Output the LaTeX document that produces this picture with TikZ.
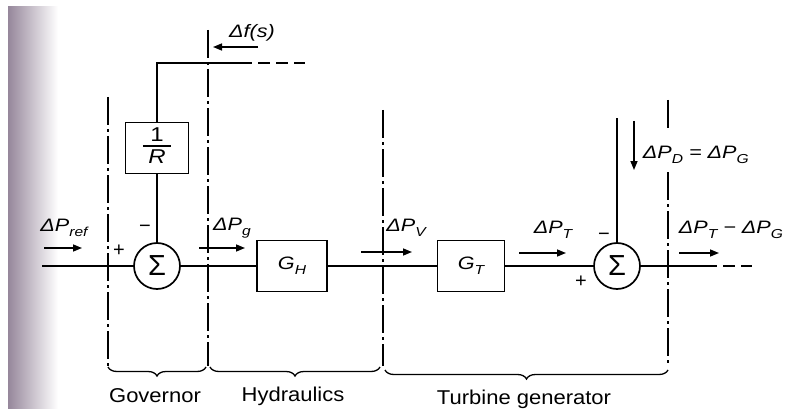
\documentclass[tikz,border=0pt]{standalone}
\usepackage{fontspec}
\setmainfont{Liberation Sans}
\newfontfamily\lblf[FakeStretch=1.2]{Liberation Sans}
\newfontfamily\capf[FakeStretch=1.1]{Liberation Sans}
\usetikzlibrary{arrows.meta,decorations.pathreplacing}
\newcommand{\lsub}[1]{\raisebox{-0.55ex}{\fontsize{13}{13}\selectfont #1}}
\definecolor{scang}{RGB}{150,135,155}
\begin{document}
\begin{tikzpicture}[x=1pt,y=-1pt, line width=1.7pt,
 blk/.style={draw, minimum height=51pt, font=\lblf\fontsize{18}{20}\selectfont\itshape, inner sep=0pt},
 sumc/.style={draw, circle, minimum size=46pt, inner sep=0pt, font=\fontsize{29}{30}\selectfont},
 lbl/.style={font=\lblf\fontsize{18}{20}\selectfont\itshape, inner sep=0pt},
 sgn/.style={font=\fontsize{20}{20}\selectfont, inner sep=0pt},
 captxt/.style={font=\capf\fontsize{20}{22}\selectfont, inner sep=0pt},
 dd/.style={line width=1.3pt, dash pattern=on 28pt off 4pt on 3pt off 4pt},
 sig/.style={-{Triangle[length=9pt,width=7pt]}, line width=1.5pt},
 brc/.style={decorate, decoration={brace, mirror, amplitude=9pt}, line width=1.3pt},
]
\useasboundingbox (0,0) rectangle (792,409);
\fill[white] (0,0) rectangle (792,409);
\shade[left color=scang, right color=white] (8,7) rectangle (58,409);

% blocks
\node[sumc] (s1) at (157,266) {Σ};
\node[blk, minimum width=63pt, font=\lblf\fontsize{20}{22}\selectfont] (rb) at (157,148) {\setlength\arrayrulewidth{1.4pt}\begin{tabular}{@{\;}c@{\;}}1\\[-3pt]\hline\noalign{\vskip 1pt}\textit{R}\end{tabular}};
\node[blk, minimum width=70pt] (gh) at (292,266) {G\lsub{H}};
\node[blk, minimum width=67pt] (gt) at (471,266) {G\lsub{T}};
\node[sumc] (s2) at (617,266) {Σ};

% coordinates
\coordinate (in) at (42,266);
\coordinate (o1) at (705,266);
\coordinate (o2) at (752,266);
\coordinate (f1) at (240,63);
\coordinate (f2) at (305,63);
\coordinate (dt) at (617,118);

% connectors
\draw (in) -- (s1.west);
\draw (s1) -- (gh);
\draw (gh) -- (gt);
\draw (gt) -- (s2);
\draw (s2.east) -- (o1);
\draw[dash pattern=on 12pt off 6pt] (o1) -- (o2);
\draw (s1.north) -- (rb.south);
\draw (rb.north) |- (f1);
\draw[dash pattern=on 12pt off 6pt] (f1) -- (f2);
\draw (s2.north) -- (dt);

% dash-dot dividers
\draw[dd] (108,97) -- (108,366);
\draw[dd] (208,30) -- (208,366);
\draw[dd] (383,110) -- (383,366);
\draw[dd] (668,100) -- (668,128);
\draw[dd] (668,172) -- (668,366);

% braces
\draw[brc] (108,367) -- (206,367);
\draw[brc] (210,367) -- (380,367);
\draw[brc] (385,370) -- (668,370);
\node[captxt] (cg) at (155,396) {Governor};
\node[captxt] (ch) at (293,396) {Hydraulics};
\node[captxt] (ct) at (524,399) {Turbine generator};

% signal labels and arrows
\node[lbl] (lref) at (64,228) {ΔP\lsub{ref}};
\draw[sig] (44,248) -- (82,248);
\node[sgn] (p1) at (119,251) {+};
\node[sgn] (m1) at (145,229) {−};
\node[lbl] (lg) at (232,228) {ΔP\lsub{g}};
\draw[sig] (199,248) -- (245,248);
\node[lbl] (lv) at (406,228) {ΔP\lsub{V}};
\draw[sig] (361,252) -- (412,252);
\node[lbl] (lt) at (553,230) {ΔP\lsub{T}};
\draw[sig] (519,253) -- (566,253);
\node[sgn] (m2) at (604,237) {−};
\node[sgn] (p2) at (581,282) {+};
\node[lbl, anchor=west] (lo) at (678,230) {ΔP\lsub{T} − ΔP\lsub{G}};
\draw[sig] (679,253) -- (719,253);
\node[lbl] (lf) at (252,33) {Δf(s)};
\draw[sig] (258,47) -- (213,47);
\node[lbl, anchor=west] (ld) at (642,155) {ΔP\lsub{D} = ΔP\lsub{G}};
\draw[sig] (634,121) -- (634,170);
\end{tikzpicture}
\end{document}
